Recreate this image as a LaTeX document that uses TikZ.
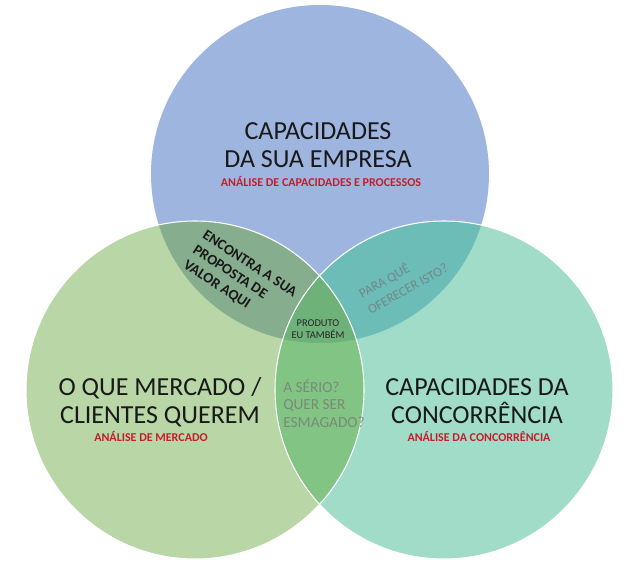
\documentclass[tikz,border=0pt]{standalone}
\usepackage{fontspec}
\setmainfont{Carlito}
\definecolor{empresaC}{HTML}{9EB5E0}
\definecolor{mercadoC}{HTML}{B8D6A6}
\definecolor{concC}{HTML}{A0DCC8}
\definecolor{emMerC}{HTML}{86AE8E}
\definecolor{emConC}{HTML}{6CBCB8}
\definecolor{merConC}{HTML}{82C484}
\definecolor{allC}{HTML}{6EB27A}
\definecolor{subred}{HTML}{C41E2C}

\begin{document}
\begin{tikzpicture}[
  x=0.75pt, y=-0.75pt,
  ring/.style={draw=white, line width=0.8pt},
  big/.style={font=\fontsize{19.5}{20.6}\selectfont, align=center, inner sep=0pt,
              text=black!90, anchor=base},
  sub/.style={font=\fontsize{9}{10}\selectfont\bfseries, text=subred, inner sep=0pt,
              anchor=base},
  valor/.style={font=\fontsize{11}{13.2}\selectfont\bfseries, text=black!90,
                align=left, inner sep=0pt},
  ask/.style={text=black!55, text opacity=0.7, align=left, inner sep=0pt},
  tiny/.style={font=\fontsize{7.8}{9}\selectfont, text=black!85, align=center,
               inner sep=0pt, anchor=base},
]

\fill[white] (0,0) rectangle (640,575);
\useasboundingbox (0,0) rectangle (640,575);

\coordinate (empresa) at (320,174);
\coordinate (mercado) at (195,390);
\coordinate (conc)    at (444,390);

\fill[empresaC] (empresa) circle[radius=126.75pt];
\fill[mercadoC] (mercado) circle[radius=126.75pt];
\fill[concC]    (conc)    circle[radius=126.75pt];

\begin{scope}
  \clip (empresa) circle[radius=126.75pt];
  \fill[emMerC] (mercado) circle[radius=126.75pt];
  \fill[emConC] (conc)    circle[radius=126.75pt];
\end{scope}
\begin{scope}
  \clip (mercado) circle[radius=126.75pt];
  \fill[merConC] (conc) circle[radius=126.75pt];
  \clip (empresa) circle[radius=126.75pt];
  \fill[allC] (conc) circle[radius=126.75pt];
\end{scope}

\draw[ring] (mercado) circle[radius=126.75pt];
\draw[ring] (conc)    circle[radius=126.75pt];

\node[big] (empresaLbl) at (318,167) {CAPACIDADES\\DA SUA EMPRESA};
\node[sub] (empresaSub) at (321,186) {ANÁLISE DE CAPACIDADES E PROCESSOS};

\node[big] (mercadoLbl) at (160,423) {O QUE MERCADO /\\CLIENTES QUEREM};
\node[sub] (mercadoSub) at (151,441) {ANÁLISE DE MERCADO};

\node[big] (concLbl) at (477,423) {CAPACIDADES DA\\CONCORRÊNCIA};
\node[sub] (concSub) at (479,441) {ANÁLISE DA CONCORRÊNCIA};

\node[valor, rotate=-33] (valorLbl) at (240,279) {ENCONTRA A SUA\\PROPOSTA DE\\VALOR AQUI};
\node[ask, rotate=29, font=\fontsize{10}{13.5}\selectfont] (paraLbl) at (403,280)
  {PARA QUÊ\\OFERECER ISTO?};
\node[ask, anchor=base west, font=\fontsize{11.5}{13.1}\selectfont] (serioLbl) at (283,427)
  {A SÉRIO?\\QUER SER\\ESMAGADO?};
\node[tiny] (produtoLbl) at (318,338) {PRODUTO\\EU TAMBÉM};

\end{tikzpicture}
\end{document}
